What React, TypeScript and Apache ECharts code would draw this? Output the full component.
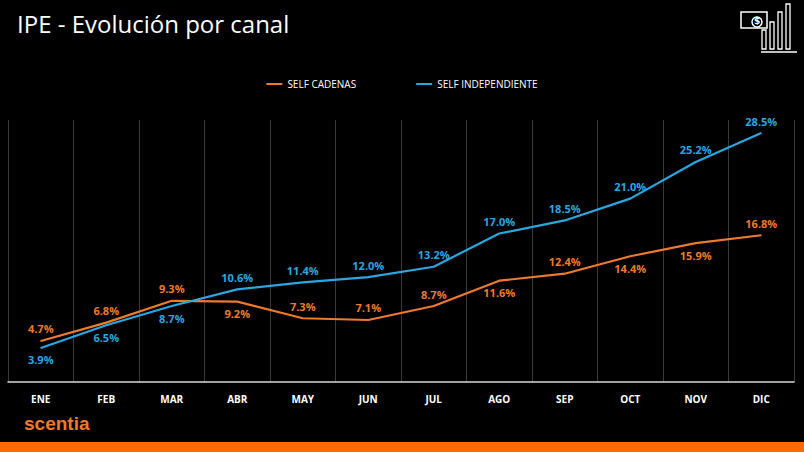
import React, { useEffect, useRef } from 'react';
import * as echarts from 'echarts';

const months = ['ENE', 'FEB', 'MAR', 'ABR', 'MAY', 'JUN', 'JUL', 'AGO', 'SEP', 'OCT', 'NOV', 'DIC'];
const selfCadenas = [4.7, 6.8, 9.3, 9.2, 7.3, 7.1, 8.7, 11.6, 12.4, 14.4, 15.9, 16.8];
const selfIndep = [3.9, 6.5, 8.7, 10.6, 11.4, 12.0, 13.2, 17.0, 18.5, 21.0, 25.2, 28.5];
// label placement per point
const cadenasPos = ['top', 'top', 'top', 'bottom', 'top', 'top', 'top', 'bottom', 'top', 'bottom', 'bottom', 'top'];
const indepPos = ['bottom', 'bottom', 'bottom', 'top', 'top', 'top', 'top', 'top', 'top', 'top', 'top', 'top'];

const ORANGE = '#EE7A2C';
const BLUE = '#2AA7E0';

export default function App() {
  const ref = useRef<HTMLDivElement>(null);

  useEffect(() => {
    if (!ref.current) return;
    const chart = echarts.init(ref.current, undefined, { renderer: 'svg' });
    const mk = (vals: number[], pos: string[]) =>
      vals.map((v, i) => ({
        value: v,
        label: { position: pos[i] as any },
      }));
    const label = (color: string) => ({
      show: true,
      color,
      fontSize: 11,
      fontWeight: 'bold' as const,
      distance: 6,
      formatter: (p: any) => `${Number(p.value).toFixed(1)}%`,
    });
    const stroke = '#fff';
    chart.setOption({
      animation: false,
      backgroundColor: '#000',
      textStyle: { fontFamily: 'Open Sans' },
      title: {
        text: 'IPE - Evolución por canal',
        left: 12,
        top: 6,
        textStyle: { color: '#fff', fontSize: 24, fontWeight: 'normal', fontFamily: 'Open Sans' },
      },
      legend: {
        top: 74,
        left: 'center',
        itemGap: 60,
        itemWidth: 16,
        icon: 'rect',
        itemHeight: 2,
        textStyle: { color: '#fff', fontSize: 10 },
        data: ['SELF CADENAS', 'SELF INDEPENDIENTE'],
      },
      grid: { left: 8, right: 10, top: 120, bottom: 70 },
      xAxis: {
        type: 'category',
        data: months,
        boundaryGap: true,
        axisLine: { lineStyle: { color: '#d9d9d9', width: 1.5 } },
        axisTick: { show: false },
        axisLabel: { color: '#fff', fontSize: 10, fontWeight: 'bold', margin: 12 },
        splitLine: { show: true, lineStyle: { color: '#3a3a3a', width: 1 } },
      },
      yAxis: { type: 'value', min: 0, max: 30, show: false, splitLine: { show: false } },
      series: [
        {
          name: 'SELF CADENAS',
          type: 'line',
          data: mk(selfCadenas, cadenasPos),
          symbol: 'circle',
          symbolSize: 1,
          lineStyle: { color: ORANGE, width: 2.2 },
          itemStyle: { color: ORANGE },
          label: label(ORANGE),
        },
        {
          name: 'SELF INDEPENDIENTE',
          type: 'line',
          data: mk(selfIndep, indepPos),
          symbol: 'circle',
          symbolSize: 1,
          lineStyle: { color: BLUE, width: 2.2 },
          itemStyle: { color: BLUE },
          label: label(BLUE),
        },
      ],
      graphic: [
        {
          type: 'text',
          left: 24,
          top: 414,
          style: { text: 'scentia', fill: ORANGE, font: 'bold 19px Liberation Sans, Arial' },
        },
        { type: 'rect', left: 0, top: 442, shape: { width: 804, height: 10 }, style: { fill: '#FF6A00' } },
        // money / bars icon
        { type: 'rect', shape: { x: 741, y: 12, width: 26, height: 16 }, style: { fill: 'none', stroke, lineWidth: 1.5 } },
        { type: 'circle', shape: { cx: 757, cy: 22, r: 5 }, style: { fill: '#000', stroke, lineWidth: 1.5 } },
        { type: 'text', x: 754, y: 16, style: { text: '$', fill: stroke, font: 'bold 9px DejaVu Sans' } },
        { type: 'rect', shape: { x: 762, y: 30, width: 4, height: 19 }, style: { fill: '#000', stroke, lineWidth: 1.3 } },
        { type: 'rect', shape: { x: 770, y: 22, width: 4, height: 27 }, style: { fill: '#000', stroke, lineWidth: 1.3 } },
        { type: 'rect', shape: { x: 778, y: 12, width: 4, height: 37 }, style: { fill: '#000', stroke, lineWidth: 1.3 } },
        { type: 'rect', shape: { x: 786, y: 4, width: 4, height: 45 }, style: { fill: '#000', stroke, lineWidth: 1.3 } },
        { type: 'line', shape: { x1: 761, y1: 52, x2: 797, y2: 52 }, style: { stroke, lineWidth: 1.5 } },
      ],
    });
    return () => chart.dispose();
  }, []);

  return <div ref={ref} style={{ position: 'fixed', left: 0, top: 0, width: 804, height: 452 }} />;
}
